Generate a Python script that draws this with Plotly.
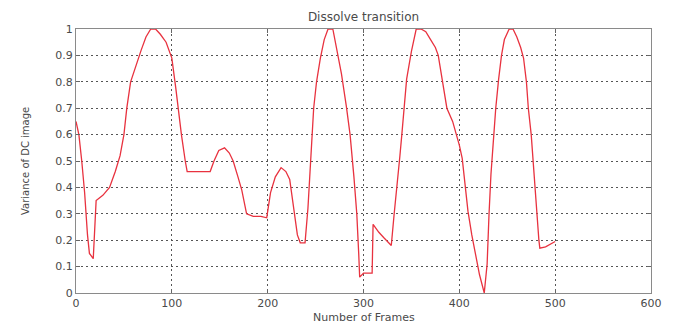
import plotly.graph_objects as go

# Variance of the DC image over the frame sequence
frames = [0, 3, 6, 9, 12, 14, 18, 21, 28, 35, 41, 46, 50, 53, 57, 63, 68, 73, 78, 83,
          88, 94, 100, 104, 107, 110, 114, 116, 140, 144, 149, 155, 160, 164, 169, 173,
          178, 185, 193, 199, 203, 208, 214, 219, 223, 227, 231, 234, 239, 242, 244, 246,
          248, 251, 255, 259, 263, 268, 272, 277, 282, 286, 290, 293, 295, 296, 300, 309,
          310, 316, 321, 326, 329, 332, 335, 338, 340, 343, 345, 350, 355, 360, 365, 370,
          375, 378, 383, 387, 393, 397, 400, 403, 406, 409, 413, 417, 421, 426, 429, 431,
          433, 436, 438, 441, 444, 447, 452, 456, 460, 464, 467, 470, 472, 475, 477, 479,
          481, 483, 484, 490, 500]
variance = [0.65, 0.60, 0.50, 0.38, 0.22, 0.15, 0.13, 0.35, 0.37, 0.40, 0.46, 0.52, 0.60,
            0.70, 0.80, 0.87, 0.92, 0.97, 1.0, 1.0, 0.98, 0.95, 0.89, 0.78, 0.68, 0.60,
            0.50, 0.46, 0.46, 0.50, 0.54, 0.55, 0.53, 0.50, 0.44, 0.39, 0.30, 0.29, 0.29,
            0.285, 0.38, 0.44, 0.475, 0.46, 0.43, 0.33, 0.22, 0.19, 0.19, 0.32, 0.44, 0.57,
            0.70, 0.80, 0.89, 0.96, 1.0, 1.0, 0.93, 0.83, 0.71, 0.60, 0.44, 0.30, 0.15,
            0.06, 0.075, 0.075, 0.26, 0.23, 0.21, 0.19, 0.18, 0.30, 0.40, 0.52, 0.60, 0.72,
            0.81, 0.915, 1.0, 1.0, 0.99, 0.96, 0.93, 0.90, 0.79, 0.70, 0.65, 0.60, 0.56,
            0.51, 0.42, 0.31, 0.22, 0.14, 0.07, 0.0, 0.11, 0.30, 0.45, 0.60, 0.70, 0.81,
            0.90, 0.96, 1.0, 1.0, 0.97, 0.93, 0.89, 0.80, 0.70, 0.60, 0.50, 0.40, 0.27,
            0.20, 0.17, 0.175, 0.195]

x_ticks = [0, 100, 200, 300, 400, 500, 600]
y_ticks = [0, 0.1, 0.2, 0.3, 0.4, 0.5, 0.6, 0.7, 0.8, 0.9, 1]
y_tick_text = ["0", "0.1", "0.2", "0.3", "0.4", "0.5", "0.6", "0.7", "0.8", "0.9", "1"]

FONT = "DejaVu Sans"
TEXT = "#4a4a4a"

fig = go.Figure(go.Scatter(
    x=frames, y=variance, mode="lines",
    line=dict(color="#e8323f", width=1.3),
    hoverinfo="x+y", showlegend=False,
))

axis_common = dict(
    showline=True, linecolor="#8a8a8a", linewidth=1, mirror="ticks",
    ticks="inside", ticklen=4, tickcolor="#666",
    showgrid=True, gridcolor="#555", gridwidth=1, griddash="2px,3px",
    zeroline=False,
    tickfont=dict(family=FONT, size=11, color=TEXT),
)

fig.update_xaxes(range=[0, 600], tickvals=x_ticks, **axis_common)
fig.update_yaxes(range=[0, 1], tickvals=y_ticks, ticktext=y_tick_text, **axis_common)

fig.update_layout(
    width=681, height=325,
    margin=dict(l=76, r=30, t=29, b=32),
    paper_bgcolor="white", plot_bgcolor="white",
    title=dict(text="Dissolve transition", x=0.5, xref="paper", xanchor="center",
               y=1 - 17 / 325, yanchor="middle",
               font=dict(family=FONT, size=12, color=TEXT)),
    annotations=[
        dict(text="Number of Frames", x=0.5, y=0, xref="paper", yref="paper",
             xanchor="center", yanchor="middle", yshift=-24, showarrow=False,
             font=dict(family=FONT, size=11, color=TEXT)),
        dict(text="Variance of DC image", x=0, y=0.5, xref="paper", yref="paper",
             xanchor="center", yanchor="middle", xshift=-51, textangle=-90,
             showarrow=False, font=dict(family=FONT, size=10, color=TEXT)),
    ],
)

fig.write_html("out.html")
